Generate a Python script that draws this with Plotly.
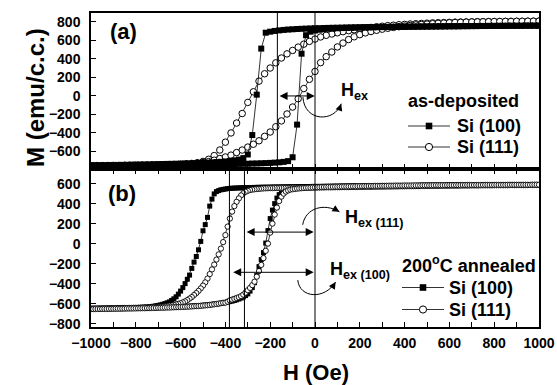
import plotly.graph_objects as go

# ---------------- DATA ----------------
# Panel (a): as-deposited.  Field sweeps (Oe)
H_A100_DESC = list(range(1000, -1001, -20))
H_A100_ASC = list(range(-1000, 1001, 20))
H_A111_DESC = list(range(1000, -1001, -25))
H_A111_ASC = list(range(-1000, 1001, 25))

M_A100_DESC = [760, 760, 760, 760, 759, 759, 759, 759, 758, 758,
               758, 758, 757, 757, 757, 756, 756, 756, 755, 755, 755,
               754, 754, 753, 753, 752, 752, 751, 751, 750, 750,
               749, 749, 748, 747, 747, 746, 745, 745, 744, 743,
               742, 741, 740, 739, 738, 737, 736, 735, 733, 732,
               730, 728, 726, 724, 721, 718, 714, 709, 703, 695, 684,
               512, 14, -423, -633,
               -672, -688, -697, -703, -708, -712, -715, -718, -721, -723,
               -725, -727, -729, -730, -732, -733, -734, -735, -736, -737,
               -738, -739, -740, -741, -742, -743, -744, -745, -746, -746,
               -747, -748, -748, -749, -750]
M_A100_ASC = [-755, -755, -754, -754, -753, -753, -752, -752, -751, -751,
              -750, -750, -749, -749, -748, -748, -747, -747, -746, -746,
              -745, -745, -744, -744, -743, -742, -742, -741, -740, -739,
              -738, -737, -736, -735, -734, -733, -731, -730, -728, -726,
              -724, -721, -718, -713, -705,
              -663, -310, 457, 657, 695,
              708, 716, 722, 726, 729, 732, 734, 736, 737, 738,
              739, 740, 741, 742, 743, 744, 745, 745, 746, 747,
              747, 748, 748, 749, 749, 750,
              750, 751, 751, 752, 752, 753, 753, 754, 754, 755,
              755, 756, 756, 757, 757, 758, 758, 758, 759, 759,
              759, 760, 760, 760, 760]
M_A111_DESC = [809, 808, 808, 807, 807, 806, 806, 805, 805, 804,
               803, 802, 801, 800, 799, 798, 796, 794, 792, 790,
               787, 784, 781, 778, 774, 770, 765, 760, 754, 748,
               741, 733, 725, 716, 706, 695, 683, 670, 656, 638,
               615,
               590, 560, 528, 492, 455, 410, 358, 302, 240, 160,
               45, -70, -190, -293, -400, -500, -585, -645, -685, -708,
               -722, -730, -735, -739, -742, -744, -746, -747, -748, -749,
               -750, -750, -751, -751, -752, -752, -752, -753, -753, -754]
M_A111_ASC = [-758, -758, -757, -757, -757, -756, -756, -755, -755, -754,
              -753, -752, -751, -749, -747, -745, -742, -738, -733, -727,
              -720, -710, -695, -677, -660, -640, -612, -585, -553, -522,
              -485, -437, -390, -333, -270, -195, -120, -30, 80, 180,
              265, 360, 425, 475, 530, 572, 610, 640, 663, 682,
              697, 710, 722, 732, 741, 749, 756, 762, 768, 773,
              777, 781, 785, 788, 791, 794, 796, 798, 800, 801,
              802, 803, 804, 805, 806, 806, 807, 807, 808, 808, 809]

# Panel (b): 200 C annealed.  Field sweeps (Oe)
H_B_DESC = list(range(1000, -1001, -10))
H_B_ASC = list(range(-1000, 1001, 10))

M_B100_DESC = [588, 588, 588, 588, 588, 588, 587, 587, 587, 587,
               587, 587, 587, 587, 586, 586, 586, 586, 586, 586,
               586, 586, 586, 586, 585, 585, 585, 585, 585, 585,
               585, 585, 585, 584, 584, 584, 584, 584, 584, 584,
               584, 584, 583, 583, 583, 583, 583, 583, 582, 582,
               582, 582, 582, 582, 581, 581, 581, 581, 581, 581,
               581, 580, 580, 580, 580, 580, 579, 579, 579, 579,
               579, 578, 578, 578, 578, 577, 577, 577, 577, 577,
               577, 576, 576, 576, 576, 575, 575, 575, 575, 574,
               574, 574, 574, 573, 573, 573, 573, 572, 572, 572,
               572, 572, 571, 571, 571, 570, 570, 570, 569, 569,
               568, 568, 568, 567, 567, 567, 566, 566, 566, 565,
               565, 564, 564, 564, 563, 563, 562, 562, 561, 561,
               560, 560, 559, 558, 557, 556, 555, 554, 552, 550,
               546, 542, 538, 530, 520, 497, 445, 375, 262, 190,
               128, 22, -62, -129, -185, -248, -315, -357, -400, -440,
               -475, -505, -532, -552, -568, -583, -592, -600, -607, -613,
               -618, -622, -626, -629, -632, -634, -636, -637, -638, -639,
               -640, -641, -641, -642, -642, -643, -643, -644, -644, -645,
               -645, -645, -646, -646, -646, -647, -647, -647, -648, -648,
               -648]
M_B100_ASC = [-652, -652, -652, -651, -651, -651, -650, -650, -650, -649,
              -649, -649, -648, -648, -648, -647, -647, -646, -646, -646,
              -645, -645, -644, -644, -643, -643, -642, -642, -641, -640,
              -640, -639, -638, -638, -637, -636, -635, -634, -633, -632,
              -631, -630, -629, -628, -627, -625, -624, -622, -621, -619,
              -617, -615, -613, -611, -608, -606, -603, -600, -597, -593,
              -589, -585, -580, -575, -569, -562, -554, -545, -534, -520,
              -503, -475, -440, -390, -320, -230, -160, -90, 5, 130,
              250, 335, 400, 455, 490, 515, 530, 540, 546, 550,
              553, 555, 557, 558, 559, 560, 561, 562, 563, 564,
              565, 566, 566, 567, 567, 568, 568, 569, 569, 570,
              570, 571, 571, 572, 572, 572, 573, 573, 574, 574,
              574, 575, 575, 575, 576, 576, 576, 577, 577, 577,
              578, 578, 578, 578, 579, 579, 579, 580, 580, 580,
              580, 580, 581, 581, 581, 581, 582, 582, 582, 582,
              582, 583, 583, 583, 583, 583, 584, 584, 584, 584,
              584, 584, 585, 585, 585, 585, 585, 585, 586, 586,
              586, 586, 586, 586, 586, 587, 587, 587, 587, 587,
              587, 587, 587, 587, 588, 588, 588, 588, 588, 588,
              588, 588, 588, 588, 589, 589, 589, 589, 589, 589,
              589]
M_B111_DESC = [586, 586, 586, 586, 586, 585, 585, 585, 585, 585,
               585, 585, 585, 585, 584, 584, 584, 584, 584, 584,
               584, 583, 583, 583, 583, 583, 583, 582, 582, 582,
               582, 582, 581, 581, 581, 581, 580, 580, 580, 580,
               579, 579, 579, 579, 578, 578, 578, 577, 577, 577,
               577, 576, 576, 576, 575, 575, 575, 574, 574, 574,
               573, 573, 573, 572, 572, 572, 571, 571, 571, 570,
               570, 570, 569, 569, 569, 568, 568, 568, 567, 567,
               567, 566, 566, 566, 566, 565, 565, 565, 565, 564,
               564, 564, 563, 563, 563, 563, 562, 562, 562, 562,
               561, 561, 561, 560, 560, 560, 560, 559, 559, 559,
               559, 558, 558, 558, 557, 557, 557, 556, 556, 555,
               555, 554, 553, 552, 550, 548, 546, 543, 540, 536,
               528, 518, 503, 482, 452, 418, 375, 320, 250, 170,
               85, 15, -50, -108, -160, -210, -258, -305, -350, -388,
               -420, -448, -473, -495, -515, -535, -550, -565, -578, -588,
               -596, -603, -608, -613, -617, -621, -624, -627, -630, -632,
               -634, -635, -636, -637, -638, -639, -640, -640, -641, -641,
               -642, -642, -643, -643, -644, -644, -645, -645, -645, -646,
               -646, -647, -647, -647, -648, -648, -648, -649, -649, -649,
               -650]
M_B111_ASC = [-655, -655, -654, -654, -654, -653, -653, -653, -652, -652,
              -652, -651, -651, -651, -650, -650, -649, -649, -649, -648,
              -648, -647, -647, -646, -646, -645, -645, -644, -644, -643,
              -642, -642, -641, -640, -639, -639, -638, -637, -636, -635,
              -634, -633, -632, -631, -630, -628, -627, -625, -624, -622,
              -620, -618, -616, -613, -610, -607, -604, -600, -596, -592,
              -590, -580, -568, -560, -552, -544, -536, -525, -510, -490,
              -466, -443, -415, -381, -331, -275, -213, -145, -72, 0,
              110, 200, 290, 360, 425, 470, 500, 520, 532, 540,
              544, 547, 550, 552, 554, 556, 558, 559, 560, 561,
              562, 563, 564, 565, 565, 566, 567, 567, 568, 569,
              569, 570, 570, 571, 571, 572, 572, 573, 573, 574,
              574, 574, 575, 575, 576, 576, 576, 577, 577, 577,
              578, 578, 578, 579, 579, 579, 580, 580, 580, 580,
              581, 581, 581, 581, 582, 582, 582, 582, 583, 583,
              583, 583, 583, 584, 584, 584, 584, 584, 584, 585,
              585, 585, 585, 585, 585, 585, 586, 586, 586, 586,
              586, 586, 586, 586, 586, 587, 587, 587, 587, 587,
              587, 587, 587, 587, 587, 587, 588, 588, 588, 588,
              588, 588, 588, 588, 588, 588, 588, 589, 589, 589,
              589]

# exchange-bias guide lines (Oe)
HEX_A = [-168, 0]
HEX_B = [-382, -315, 0]

LEGEND_A_TITLE = "as-deposited"
LEGEND_B_TITLE = "200<sup>o</sup>C annealed"
SERIES_NAMES = ["Si (100)", "Si (111)"]

for h, m in [(H_A100_DESC, M_A100_DESC), (H_A100_ASC, M_A100_ASC),
             (H_A111_DESC, M_A111_DESC), (H_A111_ASC, M_A111_ASC),
             (H_B_DESC, M_B100_DESC), (H_B_ASC, M_B100_ASC),
             (H_B_DESC, M_B111_DESC), (H_B_ASC, M_B111_ASC)]:
    assert len(h) == len(m), (len(h), len(m))

# ---------------- FIGURE ----------------
FONT = "Liberation Sans, Arial, sans-serif"
BLACK = "#000000"
W, H = 557, 385
ML, MR, MT, MB = 91, 18, 13, 58
PW, PH = W - ML - MR, H - MT - MB
SPLIT = (H - MB - 169) / PH


def px(x):
    return (x - ML) / PW


def py(y):
    return (H - MB - y) / PH


fig = go.Figure()

sq = dict(symbol="square", color=BLACK, line=dict(width=0))
ci = dict(symbol="circle", color="white", line=dict(color=BLACK, width=1))

# panel (a)
fig.add_trace(go.Scatter(x=H_A111_DESC + H_A111_ASC, y=M_A111_DESC + M_A111_ASC,
                         mode="lines+markers", name=SERIES_NAMES[1],
                         line=dict(color=BLACK, width=0.8), marker=dict(size=6.5, **ci),
                         xaxis="x", yaxis="y"))
fig.add_trace(go.Scatter(x=H_A100_DESC + H_A100_ASC, y=M_A100_DESC + M_A100_ASC,
                         mode="lines+markers", name=SERIES_NAMES[0],
                         line=dict(color=BLACK, width=0.8), marker=dict(size=6, **sq),
                         xaxis="x", yaxis="y"))
# panel (b)
fig.add_trace(go.Scatter(x=H_B_DESC + H_B_ASC, y=M_B100_DESC + M_B100_ASC,
                         mode="lines+markers", name=SERIES_NAMES[0],
                         line=dict(color=BLACK, width=0.8), marker=dict(size=5, **sq),
                         xaxis="x2", yaxis="y2"))
fig.add_trace(go.Scatter(x=H_B_DESC + H_B_ASC, y=M_B111_DESC + M_B111_ASC,
                         mode="lines+markers", name=SERIES_NAMES[1],
                         line=dict(color=BLACK, width=0.8),
                         marker=dict(size=5.3, symbol="circle", color="white",
                                     line=dict(color=BLACK, width=0.9)),
                         xaxis="x2", yaxis="y2"))

axis_common = dict(showgrid=False, zeroline=False, linecolor=BLACK, linewidth=1.5,
                   tickcolor=BLACK, tickwidth=1, ticklen=5, ticks="inside",
                   automargin=False,
                   tickfont=dict(family=FONT, size=14, color=BLACK, weight="bold"))

fig.update_layout(
    width=W, height=H,
    margin=dict(l=ML, r=MR, t=MT, b=MB, autoexpand=False),
    paper_bgcolor="white", plot_bgcolor="white",
    font=dict(family=FONT, color=BLACK, weight="bold"),
    showlegend=False,
    xaxis=dict(domain=[0, 1], anchor="y", range=[-1000, 1000], dtick=100, tick0=0,
               showticklabels=False, mirror=True, **axis_common),
    yaxis=dict(domain=[SPLIT, 1], anchor="x", range=[-790, 897], dtick=200, tick0=0,
               mirror=True, ticklabelstandoff=6, **axis_common),
    xaxis2=dict(domain=[0, 1], anchor="y2", range=[-1000, 1000], dtick=200, tick0=0,
                mirror="ticks", minor=dict(ticks="inside", dtick=100, ticklen=5, tickcolor=BLACK),
                ticklabelstandoff=2, **axis_common),
    yaxis2=dict(domain=[0, SPLIT], anchor="x2", range=[-834, 746], dtick=200, tick0=0,
                mirror=True, ticklabelstandoff=6, **axis_common),
)

# vertical guide lines
for h in HEX_A:
    fig.add_shape(type="line", xref="x", yref="y domain", x0=h, x1=h, y0=0, y1=1,
                  line=dict(color=BLACK, width=1))
for h in HEX_B:
    fig.add_shape(type="line", xref="x2", yref="y2 domain", x0=h, x1=h, y0=0, y1=1,
                  line=dict(color=BLACK, width=1))


# double arrows
def dbl_arrow(x0, x1, y, xr, yr):
    fig.add_annotation(x=x1, y=y, ax=x0, ay=y, xref=xr, yref=yr, axref=xr, ayref=yr,
                       text="", showarrow=True, arrowhead=2, startarrowhead=2,
                       arrowside="end+start", arrowsize=1.6, startarrowsize=1.6,
                       arrowwidth=1, arrowcolor=BLACK, standoff=0, startstandoff=0)


dbl_arrow(-165, -1, 0, "x", "y")
dbl_arrow(-312, -6, 115, "x2", "y2")
dbl_arrow(-372, -6, -287, "x2", "y2")


# curved arrows
def curve(p0, c1, c2, p2, xr, yr):
    fig.add_shape(type="path", xref=xr, yref=yr,
                  path=f"M {p0[0]},{p0[1]} C {c1[0]},{c1[1]} {c2[0]},{c2[1]} {p2[0]},{p2[1]}",
                  line=dict(color=BLACK, width=1))
    tx = p2[0] + 0.3 * (c2[0] - p2[0])
    ty = p2[1] + 0.3 * (c2[1] - p2[1])
    fig.add_annotation(x=p2[0], y=p2[1], ax=tx, ay=ty, xref=xr, yref=yr, axref=xr, ayref=yr,
                       text="", showarrow=True, arrowhead=2, arrowsize=1.4, arrowwidth=1,
                       arrowcolor=BLACK, standoff=0)


curve((-54, -12), (-47, -286), (88, -286), (117, -84), "x", "y")
curve((-55, 188), (-42, 359), (42, 409), (109, 318), "x2", "y2")
curve((-77, -365), (-69, -545), (42, -565), (92, -384), "x2", "y2")


# texts
def txt(text, x, y, xr, yr, size, xa="left", ya="middle", angle=0):
    fig.add_annotation(x=x, y=y, xref=xr, yref=yr, text=text, showarrow=False,
                       xanchor=xa, yanchor=ya, textangle=angle,
                       font=dict(family=FONT, size=size, color=BLACK, weight="bold"))


txt("H<sub>ex</sub>", 109, 50, "x", "y", 18)
txt("H<sub>ex (111)</sub>", 127, 249, "x2", "y2", 18)
txt("H<sub>ex (100)</sub>", 60, -264, "x2", "y2", 18)
txt("(a)", px(123), py(32), "paper", "paper", 22, xa="center")
txt("(b)", px(122), py(193), "paper", "paper", 22, xa="center")
txt("M (emu/c.c.)", px(35), py(98), "paper", "paper", 24, xa="center", angle=-90)
txt("H (Oe)", px(316), py(372), "paper", "paper", 22, xa="center")


# hand-built legends
def legend(title, x_left, y_title, y_items, x_text):
    txt(title, px(x_left - 2), py(y_title), "paper", "paper", 18)
    for i, (yy, name) in enumerate(zip(y_items, SERIES_NAMES)):
        fig.add_shape(type="line", xref="paper", yref="paper",
                      x0=px(x_left), x1=px(x_left + 42), y0=py(yy), y1=py(yy),
                      line=dict(color="#333333", width=1))
        cx, r = x_left + 21, 3.3
        if i == 0:
            fig.add_shape(type="rect", xref="paper", yref="paper",
                          x0=px(cx - r), x1=px(cx + r), y0=py(yy + r), y1=py(yy - r),
                          fillcolor=BLACK, line=dict(width=0))
        else:
            fig.add_shape(type="circle", xref="paper", yref="paper",
                          x0=px(cx - r - 0.3), x1=px(cx + r + 0.3),
                          y0=py(yy + r + 0.3), y1=py(yy - r - 0.3),
                          fillcolor="white", line=dict(color=BLACK, width=1))
        txt(name, px(x_text - 2), py(yy), "paper", "paper", 18)


legend(LEGEND_A_TITLE, 408, 101, [126, 147], 456.7)
legend(LEGEND_B_TITLE, 402, 264, [287.5, 309.5], 449)

fig.write_html("out.html", config={"displayModeBar": False},
               post_script="document.body.style.margin='0';")
